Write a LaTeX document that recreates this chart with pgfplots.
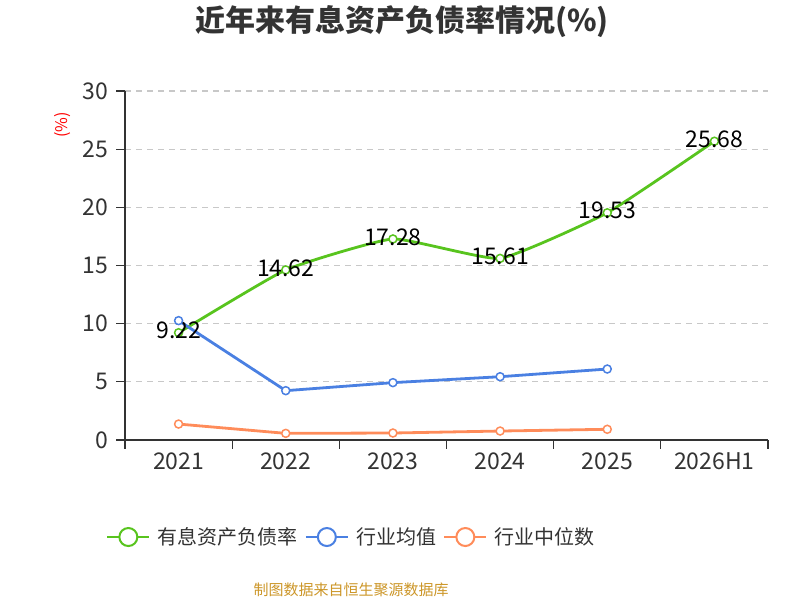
\documentclass[border=0pt]{standalone}
\usepackage{pgfplots}
\pgfplotsset{compat=1.18}
\usepackage{fontspec}
\setmainfont{Noto Sans CJK SC}
\definecolor{cgreen}{RGB}{88,196,30}
\definecolor{cblue}{RGB}{74,128,226}
\definecolor{corange}{RGB}{255,140,90}
\definecolor{c333}{RGB}{51,51,51}
\definecolor{cgrid}{RGB}{200,200,200}
\definecolor{cfoot}{RGB}{204,150,40}
\begin{document}
\begin{tikzpicture}[x=1bp,y=1bp]
\path (0,0) rectangle (800,600);
\node[font=\fontsize{30bp}{34bp}\selectfont\bfseries, text=c333] at (402,578) {近年来有息资产负债率情况(\%)};
\node[font=\fontsize{16bp}{18bp}\selectfont, text=red, rotate=90] at (63,475) {(\%)};
\node[font=\fontsize{15bp}{18bp}\selectfont, text=cfoot] at (351,10) {制图数据来自恒生聚源数据库};
\begin{axis}[
  at={(125bp,160bp)}, anchor=south west,
  scale only axis, width=643bp, height=349bp,
  xmin=-0.5, xmax=5.5, ymin=0, ymax=30,
  ytick={0,5,...,30},
  xtick={-0.5,0.5,1.5,2.5,3.5,4.5,5.5},
  xticklabels={,,,,,,},
  extra x ticks={0,1,2,3,4,5},
  extra x tick labels={2021,2022,2023,2024,2025,2026H1},
  extra x tick style={major tick length=0pt, grid=none},
  axis lines=left,
  axis line style={-, draw=c333, line width=1.3bp},
  tick align=outside,
  major tick length=9bp,
  tick style={draw=c333, line width=1.3bp},
  ymajorgrids,
  grid style={draw=cgrid, line width=1.2bp, dash pattern=on 6bp off 5bp},
  /pgf/number format/assume math mode=true,
  tick label style={font=\fontsize{23bp}{25bp}\selectfont, text=c333},
  xticklabel style={yshift=-9bp},
  yticklabel style={xshift=-4bp},
  clip=false,
  legend columns=3,
  legend style={draw=none, at={(0.352,-0.278)}, anchor=center,
    font=\fontsize{20bp}{24bp}\selectfont, text=c333,
    /tikz/every odd column/.style={column sep=5bp},
    /tikz/every even column/.style={column sep=5bp}},
]
\addplot[cgreen, line width=2.8bp, smooth, tension=0.25,
  mark=*, mark size=4bp, mark options={fill=white, draw=cgreen, line width=1.5bp, solid},
  nodes near coords, point meta=explicit symbolic,
  every node near coord/.style={anchor=center, yshift=2bp, font=\fontsize{23bp}{25bp}\selectfont, text=black},
  legend image code/.code={\draw[cgreen, line width=2.5bp] (0bp,0bp) -- (42bp,0bp); \draw[cgreen, line width=2bp, fill=white] (21bp,0bp) circle (9bp);}]
coordinates {(0,9.22) [9.22] (1,14.62) [14.62] (2,17.28) [17.28] (3,15.61) [15.61] (4,19.53) [19.53] (5,25.68) [25.68]};
\addlegendentry{有息资产负债率}
\addplot[cblue, line width=2.8bp,
  mark=*, mark size=4bp, mark options={fill=white, draw=cblue, line width=1.5bp, solid},
  legend image code/.code={\draw[cblue, line width=2.5bp] (0bp,0bp) -- (42bp,0bp); \draw[cblue, line width=2bp, fill=white] (21bp,0bp) circle (9bp);}]
coordinates {(0,10.26) (1,4.24) (2,4.93) (3,5.44) (4,6.10)};
\addlegendentry{行业均值}
\addplot[corange, line width=2.8bp,
  mark=*, mark size=4bp, mark options={fill=white, draw=corange, line width=1.5bp, solid},
  legend image code/.code={\draw[corange, line width=2.5bp] (0bp,0bp) -- (42bp,0bp); \draw[corange, line width=2bp, fill=white] (21bp,0bp) circle (9bp);}]
coordinates {(0,1.37) (1,0.57) (2,0.60) (3,0.77) (4,0.92)};
\addlegendentry{行业中位数}
\end{axis}
\end{tikzpicture}
\end{document}
